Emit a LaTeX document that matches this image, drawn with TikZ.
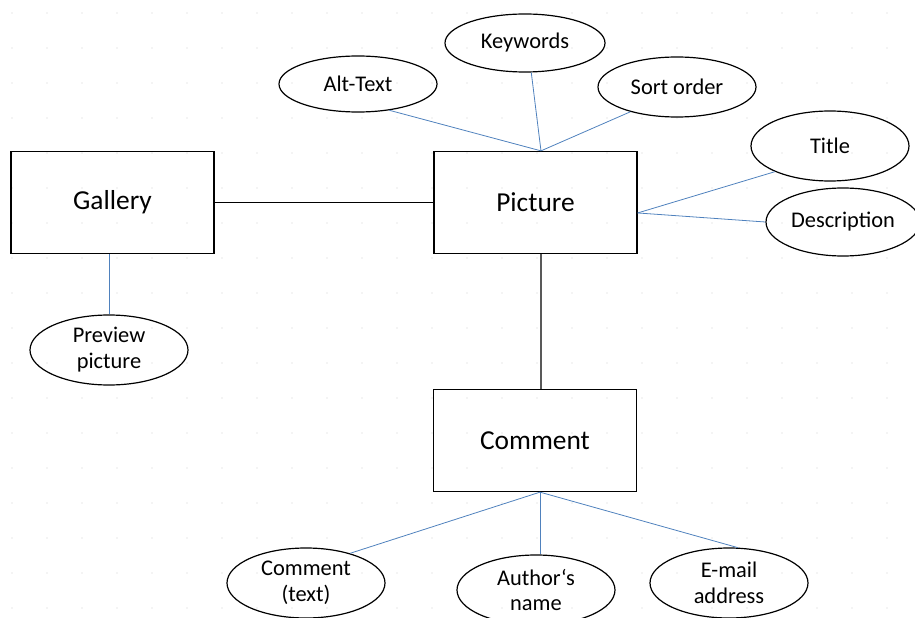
\documentclass[tikz,border=0pt]{standalone}
\usepackage{fontspec}
\setmainfont{Carlito}
\usetikzlibrary{shapes.geometric}
\definecolor{linkblue}{RGB}{79,129,189}
\newcommand\boxw{203}
\newcommand\boxh{102}

\begin{document}
\begin{tikzpicture}[x=1bp, y=-1bp,
    entity/.style={rectangle, draw, line width=1.3pt, minimum width=\boxw bp, minimum height=\boxh bp, inner sep=0pt, font=\fontsize{27.5}{32}\selectfont},
    attr/.style={ellipse, draw, line width=1.2pt, minimum width=158bp, minimum height=70bp, inner sep=0pt, align=center, font=\fontsize{22.5}{26}\selectfont},
    link/.style={linkblue, line width=0.8pt},
    rel/.style={black, line width=1.3pt}]

    \useasboundingbox (0,0) rectangle (915,618);

    % Grid
    \foreach \x in {12,47,...,915}
        \foreach \y in {13,48,...,618}
            \fill[black!18] (\x,\y) circle (0.6bp);

    % Entities
    \node at (112.5, 202.5) [entity] (gallery) {Gallery};
    \node at (535.5, 202.5) [entity] (pic) {Picture};
    \node at (535, 440.5) [entity] (comment) {Comment};

    % Attributes of the picture
    \node at (358, 84) [attr, minimum height=56bp] (alt) {Alt-Text};
    \node at (525, 43) [attr, minimum width=160bp, minimum height=58bp] (kw) {Keywords};
    \node at (677, 87) [attr, minimum height=60bp] (sort) {Sort order};
    \node at (830, 146) [attr] (title) {Title};
    \node at (843, 222) [attr, minimum width=154bp, minimum height=68bp] (descr) {Description};

    % Attribute of the gallery
    \node at (109, 350) [attr] (preview) {Preview\\picture};

    % Attributes of the comment
    \node at (306, 583) [attr] (ctext) {Comment\\(text)};
    \node at (536, 590) [attr] (author) {Author‘s\\name};
    \node at (729, 583) [attr] (mail) {E-mail\\address};

    \coordinate (pictop) at ([xshift=5.5]pic.north);
    \coordinate (picright) at ([yshift=-10.5]pic.east);
    \coordinate (combot) at ([xshift=5]comment.south);

    \draw[rel] (gallery.east) -- (pic.west);
    \draw[rel] ([xshift=5.5]pic.south) -- ([xshift=6]comment.north);

    \draw[link] (pictop) -- (alt.-40);
    \draw[link] (pictop) -- (kw.-78);
    \draw[link] (pictop) -- (sort.-152);
    \draw[link] (picright) -- (title.-155);
    \draw[link] (picright) -- (descr.180);
    \draw[link] (gallery.south -| preview.north) -- (preview.north);
    \draw[link] (combot) -- (ctext.34);
    \draw[link] (combot) -- (author.north -| combot);
    \draw[link] (combot) -- (mail.76);

\end{tikzpicture}
\end{document}
